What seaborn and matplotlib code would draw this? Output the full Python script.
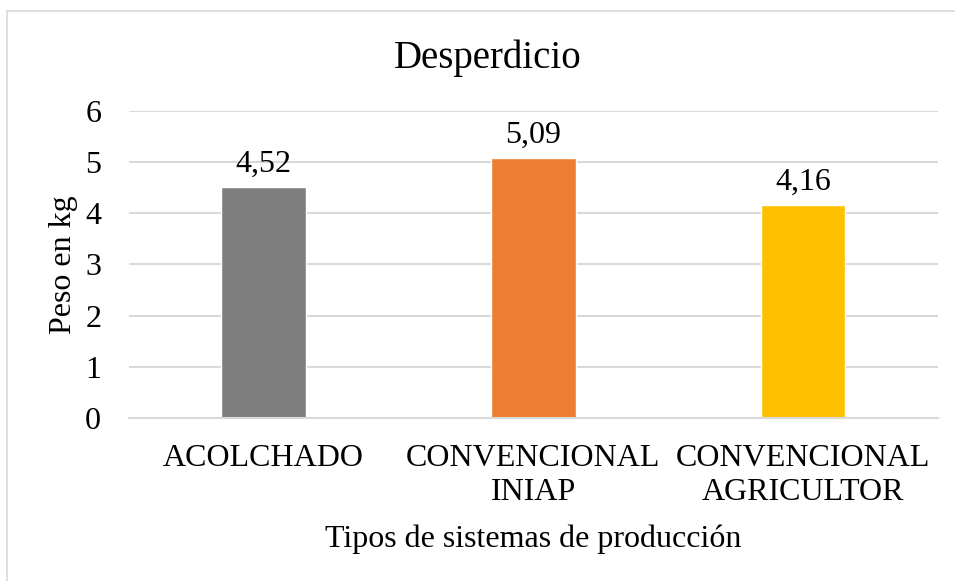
import matplotlib
matplotlib.use("Agg")
import matplotlib.pyplot as plt
import seaborn as sns
import pandas as pd
from matplotlib.patches import Rectangle

categories = ["ACOLCHADO", "CONVENCIONAL\nINIAP", "CONVENCIONAL\nAGRICULTOR"]
values = [4.52, 5.09, 4.16]
value_labels = ["4,52", "5,09", "4,16"]
colors = ["#7F7F7F", "#ED7D31", "#FFC000"]
y_ticks = [0, 1, 2, 3, 4, 5, 6]

sns.set_style("white")
plt.rcParams["font.family"] = ["Liberation Serif", "DejaVu Serif"]
plt.rcParams["text.color"] = "black"

df = pd.DataFrame({"tipo": categories, "peso": values})

fig = plt.figure(figsize=(9.55, 5.81), dpi=100)
ax = fig.add_axes([0.135, 0.2806, 0.847, 0.5284])

sns.barplot(data=df, x="tipo", y="peso", hue="tipo", palette=colors,
            width=0.315, legend=False, ax=ax, saturation=1)

ax.set_ylim(0, 6)
ax.set_yticks(y_ticks)
ax.yaxis.grid(True, color="#D9D9D9", linewidth=1.5)
ax.set_axisbelow(True)
for s in ["top", "right", "left"]:
    ax.spines[s].set_visible(False)
ax.spines["bottom"].set_color("#D9D9D9")
ax.spines["bottom"].set_linewidth(1.5)
ax.tick_params(axis="both", length=0, labelsize=23, colors="black")
ax.tick_params(axis="y", pad=20)
ax.tick_params(axis="x", pad=19)
for t in ax.get_xticklabels():
    t.set_linespacing(1.2)

for p, lab in zip(ax.patches, value_labels):
    ax.text(p.get_x() + p.get_width() / 2, p.get_height() + 0.16, lab,
            ha="center", va="bottom", fontsize=23)

ax.set_xlabel("Tipos de sistemas de producción", fontsize=23, labelpad=13, color="black")
ax.set_ylabel("Peso en kg", fontsize=23, labelpad=5, color="black")
fig.text(488 / 955, 1 - 58 / 581, "Desperdicio", ha="center", va="center", fontsize=28)

# chart frame (only left/top edges visible in the crop)
fig.patches.append(Rectangle((7 / 955, -0.1), 1.2, 1 - 11 / 581 + 0.1,
                             transform=fig.transFigure, fill=False,
                             edgecolor="#D9D9D9", linewidth=1.2))

fig.savefig("out.png", dpi=100)
